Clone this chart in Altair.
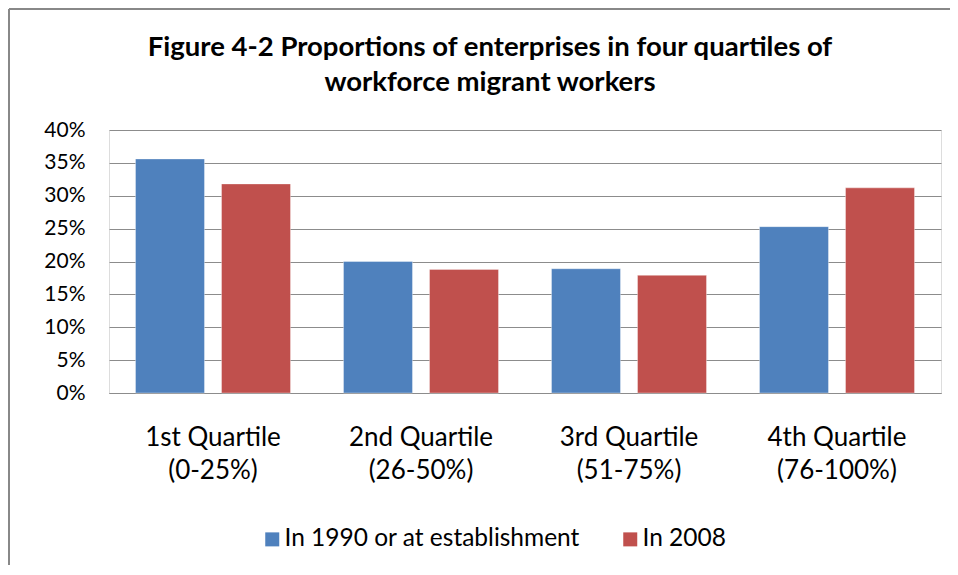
import altair as alt
import pandas as pd

categories = ["1st Quartile|(0-25%)", "2nd Quartile|(26-50%)", "3rd Quartile|(51-75%)", "4th Quartile|(76-100%)"]
series = ["In 1990 or at establishment", "In 2008"]
values_1990 = [0.356, 0.200, 0.189, 0.253]
values_2008 = [0.318, 0.188, 0.179, 0.312]
colors = ["#4F81BD", "#C0504D"]

rows = []
for c, v1, v2 in zip(categories, values_1990, values_2008):
    rows.append({"category": c, "series": series[0], "value": v1})
    rows.append({"category": c, "series": series[1], "value": v2})
df = pd.DataFrame(rows)

FONT = "Lato"

bars = alt.Chart(df).mark_bar(stroke="#ffffff", strokeWidth=0.6, strokeOpacity=0.6).encode(
    x=alt.X("category:N", sort=categories, title=None,
            scale=alt.Scale(paddingInner=0, paddingOuter=0),
            axis=alt.Axis(labelExpr="split(datum.label, '|')", labelAngle=0,
                          labelFontSize=26, labelLineHeight=33, labelPadding=31,
                          ticks=False, domain=True, domainColor="#8c8c8c",
                          labelColor="#000000", labelFont=FONT, labelBaseline="top")),
    xOffset=alt.XOffset("series:N", sort=series,
                        scale=alt.Scale(paddingInner=0.198, paddingOuter=0.308)),
    y=alt.Y("value:Q", title=None,
            scale=alt.Scale(domain=[0, 0.4]),
            axis=alt.Axis(format=".0%", values=[0, 0.05, 0.1, 0.15, 0.2, 0.25, 0.3, 0.35, 0.4],
                          grid=True, gridColor="#8c8c8c", gridWidth=1, domain=False,
                          ticks=False, labelFontSize=21, labelPadding=24,
                          labelColor="#000000", labelFont=FONT)),
    color=alt.Color("series:N", sort=series,
                    scale=alt.Scale(domain=series, range=colors),
                    legend=alt.Legend(title=None, orient="none", direction="horizontal",
                                      legendX=151, legendY=397,
                                      symbolType="square", symbolSize=196,
                                      symbolStrokeWidth=0, labelFontSize=24.5,
                                      labelFont=FONT, labelColor="#000000",
                                      labelOffset=0, columnPadding=38, labelLimit=500)),
)

border = alt.Chart(pd.DataFrame({"k": [0]})).mark_rule(color="#888888", strokeWidth=2).encode(
    x=alt.value(-100), x2=alt.value(841), y=alt.value(-121)
) + alt.Chart(pd.DataFrame({"k": [0]})).mark_rule(color="#888888", strokeWidth=2).encode(
    x=alt.value(-100), y=alt.value(-121), y2=alt.value(435)
)

chart = alt.layer(bars, border).properties(
    width=832, height=263,
    title=alt.TitleParams(
        ["Figure 4-2 Proportions of enterprises in four quartiles of", "workforce migrant workers"],
        fontSize=27.5, font=FONT, fontWeight="bold", color="#000000",
        anchor="middle", dx=-35, dy=88, offset=0, lineHeight=35),
    autosize=alt.AutoSizeParams(type="none"),
    padding={"left": 101, "top": 122, "right": 9, "bottom": 172},
).configure_view(stroke=None).configure(background="#ffffff")

chart.save("out.html", embed_options={"renderer": "svg", "actions": False})
